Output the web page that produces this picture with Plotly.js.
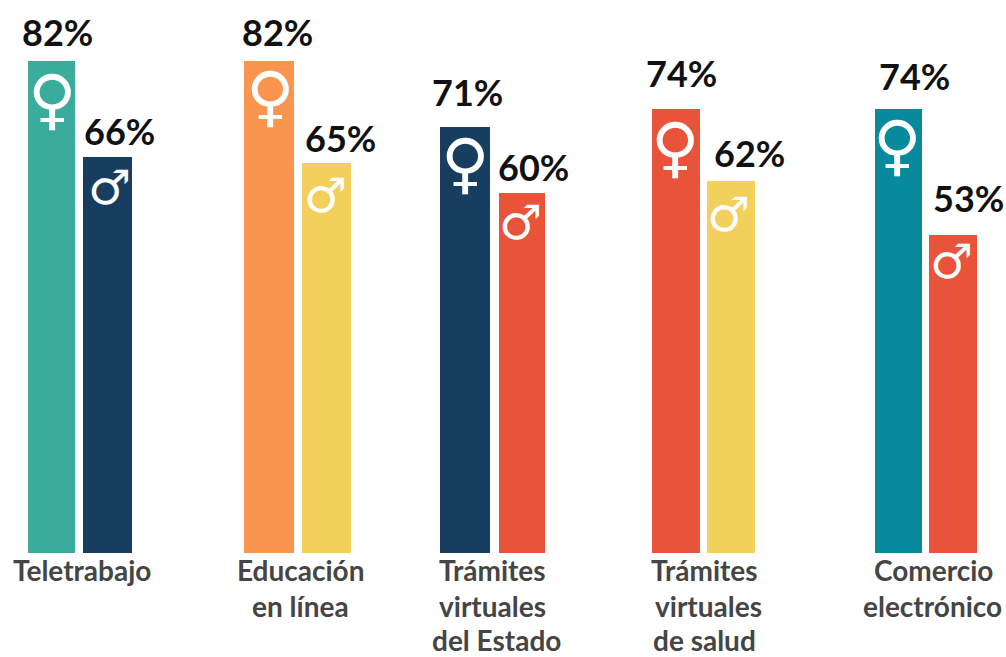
<!DOCTYPE html>
<html>
<head>
<meta charset="utf-8">
<script src="https://cdn.plot.ly/plotly-3.0.1.min.js"></script>
<style>html,body{margin:0;padding:0;background:#fff;overflow:hidden}#chart{width:1006px;height:657px}</style>
</head>
<body>
<div id="chart"></div>
<script>
// Data
const categories = [["Teletrabajo"],["Educación","en línea"],["Trámites","virtuales","del Estado"],["Trámites","virtuales","de salud"],["Comercio","electrónico"]];
const mujeres = [82,82,71,74,74];
const hombres = [66,65,60,62,53];

// Layout of the marks (pixel-scale x axis)
const fLeft = [28,244,440,652,875], fRight = [75,294,490,700,922];
const mLeft = [83,302,499,707,929], mRight = [132,351,545,755,977];
const fColors = ["#3BAB9C","#FA954F","#173E5F","#E9533A","#078A9B"];
const mColors = ["#173E5F","#F3CF5C","#E9533A","#F3CF5C","#E9533A"];
const fLabelDx = [6,8,2,5,16], mLabelDx = [12,14,11,18,15];
const fLabelUp = [5,5,11,12,9], mLabelUp = [2,1,2,4,13];
const fSymUp = [2,5,4,2,4], mSymUp = [0,-2,1,-3,4];
const fSymDx = [0,1,0,-1,-2], mSymDx = [2,-1,-2,-3,-2];
const catX = [[82],[300,300],[492,492,496],[704,708,704],[933,932]];
const lineDown = [17,53,87];
const FONT = "Lato, Carlito, sans-serif";

const mid = (a,b)=>a.map((v,i)=>(v+b[i])/2);
const wid = (a,b)=>a.map((v,i)=>b[i]-v);
const fX = mid(fLeft,fRight), mX = mid(mLeft,mRight);

const traces = [
  {type:"bar",x:fX,y:mujeres,width:wid(fLeft,fRight),marker:{color:fColors,line:{width:0}},hoverinfo:"y"},
  {type:"bar",x:mX,y:hombres,width:wid(mLeft,mRight),marker:{color:mColors,line:{width:0}},hoverinfo:"y"}
];

const ann = [];
function valueLabel(x,v,up){
  ann.push({x:x,y:v,text:"<b>"+v+"%</b>",showarrow:false,xanchor:"center",yanchor:"bottom",yshift:up,
    font:{family:FONT,size:36,color:"#111"}});
}
function symbol(x,v,ch,size,yshift){
  ann.push({x:x,y:v,text:"<b>"+ch+"</b>",showarrow:false,xanchor:"center",yanchor:"top",yshift:yshift,
    font:{family:"DejaVu Sans",size:size,color:"#fff"}});
}
mujeres.forEach((v,i)=>{
  valueLabel(fX[i]+fLabelDx[i],v,fLabelUp[i]);
  symbol(fX[i]+fSymDx[i],v,"♀",66,fSymUp[i]);
});
hombres.forEach((v,i)=>{
  valueLabel(mX[i]+mLabelDx[i],v,mLabelUp[i]);
  symbol(mX[i]+mSymDx[i],v,"♂",48,mSymUp[i]);
});
categories.forEach((lines,i)=>{
  lines.forEach((t,j)=>{
    ann.push({x:catX[i][j],y:0,text:"<b>"+t+"</b>",showarrow:false,xanchor:"center",yanchor:"middle",yshift:-lineDown[j],
      font:{family:FONT,size:28,color:"#454545"}});
  });
});

Plotly.newPlot("chart",traces,{
  width:1006,height:657,
  margin:{l:0,r:0,t:0,b:104,pad:0},
  paper_bgcolor:"#fff",plot_bgcolor:"#fff",
  showlegend:false,bargap:0,barmode:"overlay",
  xaxis:{range:[0,1006],visible:false,fixedrange:true},
  yaxis:{range:[0,553/6],visible:false,fixedrange:true},
  annotations:ann
},{displayModeBar:false,staticPlot:true});
</script>
</body>
</html>
